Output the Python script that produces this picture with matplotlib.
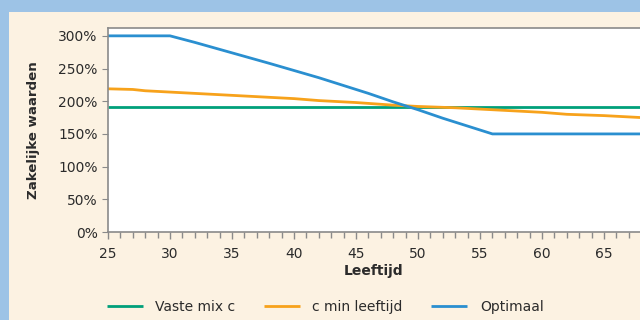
import numpy as np
import matplotlib.pyplot as plt
from matplotlib.patches import Rectangle
from matplotlib.ticker import MultipleLocator, FuncFormatter

# data
ages_mix = [25, 68]
vaste_mix = [191, 191]

ages_min = [25, 27, 28, 30, 32, 35, 38, 40, 42, 45, 48, 50, 53, 55, 58, 60, 62, 65, 68]
c_min_leeftijd = [219, 218, 216, 214, 212, 209, 206, 204, 201, 198, 194, 192, 190, 188, 185, 183, 180, 178, 175]

ages_opt = [25, 30, 32, 35, 38, 40, 42, 44, 46, 48, 50, 52, 54, 56, 68]
optimaal = [300, 300, 290, 274, 258, 247, 236, 224, 212, 199, 187, 174, 162, 150, 150]

labels = ["Vaste mix c", "c min leeftijd", "Optimaal"]
colors = ["#00a07a", "#f7a21b", "#2a8fd0"]

W, H = 640, 320
fig = plt.figure(figsize=(6.4, 3.2), dpi=100, facecolor="#9dc3e6")
panel = Rectangle((9 / W, 0), 1, (H - 12) / H, transform=fig.transFigure,
                  facecolor="#fcf2e2", edgecolor="none", zorder=-5)
fig.add_artist(panel)

ax = fig.add_axes([108 / W, (H - 232) / H, (W - 108) / W, (232 - 28) / H])
ax.set_facecolor("white")

ax.plot(ages_mix, vaste_mix, color=colors[0], lw=2.0, label=labels[0], solid_capstyle="butt")
ax.plot(ages_min, c_min_leeftijd, color=colors[1], lw=2.0, label=labels[1], solid_capstyle="butt")
ax.plot(ages_opt, optimaal, color=colors[2], lw=2.0, label=labels[2], solid_capstyle="butt")

ax.set_xlim(25, 67.9)
ax.set_ylim(0, 312)
ax.xaxis.set_major_locator(MultipleLocator(5))
ax.xaxis.set_minor_locator(MultipleLocator(1))
ax.yaxis.set_major_locator(MultipleLocator(50))
ax.yaxis.set_major_formatter(FuncFormatter(lambda v, p: "%d%%" % v))

grey = "#8a8a8a"
for s in ["left", "bottom", "top"]:
    ax.spines[s].set_color(grey)
    ax.spines[s].set_linewidth(1.2)
ax.spines["right"].set_visible(False)
ax.tick_params(axis="both", colors=grey, labelcolor="#2b2b2b", labelsize=10)
ax.tick_params(axis="x", which="major", length=5, width=1.0, pad=6)
ax.tick_params(axis="x", which="minor", length=4, width=1.0, color=grey)
ax.tick_params(axis="y", length=4)

ax.set_xlabel("Leeftijd", fontsize=10, fontweight="bold", color="#2b2b2b", labelpad=2)
ax.set_ylabel("Zakelijke waarden", fontsize=9.6, fontweight="bold", color="#2b2b2b", labelpad=13)

fig.legend(loc="center left", bbox_to_anchor=(94 / W, 1 - 307 / H), ncol=3, frameon=False,
           fontsize=10, handlelength=2.6, handletextpad=0.9, columnspacing=2.05,
           labelcolor="#2b2b2b")

fig.savefig("out.png", dpi=100, facecolor=fig.get_facecolor())
